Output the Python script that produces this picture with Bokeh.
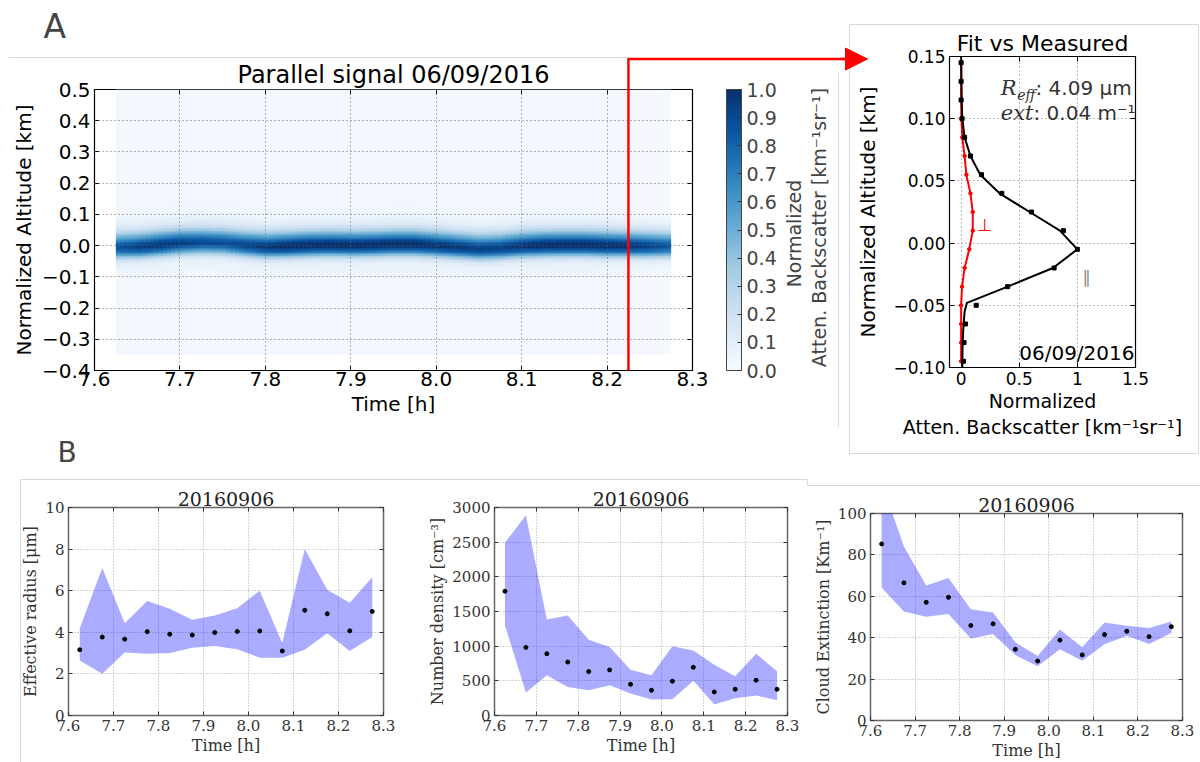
import numpy as np
from bokeh.plotting import figure
from bokeh.layouts import row, column
from bokeh.models import (Range1d, FixedTicker, ColorBar, LinearColorMapper, LinearAxis,
                          Label, Arrow, NormalHead)
from bokeh.palettes import Blues256
from bokeh.embed import file_html
from bokeh.resources import INLINE

# ====================== DATA ======================
x_ticks = [7.6, 7.7, 7.8, 7.9, 8.0, 8.1, 8.2, 8.3]
x_tick_labels = ["7.6", "7.7", "7.8", "7.9", "8.0", "8.1", "8.2", "8.3"]

# --- Panel A: parallel signal heat map ---
hm_time_start, hm_time_end = 7.625, 8.275
hm_alt_start, hm_alt_end = -0.35, 0.50
band_time = [7.625, 7.650, 7.675, 7.700, 7.725, 7.750, 7.775, 7.800, 7.825,
             7.850, 7.875, 7.900, 7.925, 7.950, 7.975, 8.000, 8.025, 8.050,
             8.075, 8.100, 8.125, 8.150, 8.175, 8.200, 8.225, 8.250, 8.275]
band_center = [-0.004, -0.002, 0.004, 0.010, 0.012, 0.010, 0.003, -0.002, 0.000,
               0.003, 0.004, 0.003, 0.004, 0.006, 0.006, 0.002, -0.003, -0.008,
               -0.006, 0.000, 0.003, 0.004, 0.004, 0.002, 0.001, 0.000, 0.000]
band_peak = [0.85, 0.92, 0.95, 0.92, 0.88, 0.86, 0.90, 0.95, 1.00,
             1.00, 1.00, 1.00, 1.00, 1.00, 1.00, 0.97, 0.95, 0.92,
             0.92, 0.96, 1.00, 1.00, 1.00, 1.00, 0.97, 0.92, 0.85]
band_floor = [0.035, 0.035, 0.035, 0.035, 0.035, 0.035, 0.035, 0.035, 0.035,
              0.035, 0.035, 0.035, 0.035, 0.035, 0.035, 0.035, 0.035, 0.035,
              0.035, 0.035, 0.035, 0.035, 0.035, 0.030, 0.028, 0.020, 0.012]
hm_y_ticks = [-0.4, -0.3, -0.2, -0.1, 0.0, 0.1, 0.2, 0.3, 0.4, 0.5]
hm_y_labels = ["\u22120.4", "\u22120.3", "\u22120.2", "\u22120.1", "0.0",
               "0.1", "0.2", "0.3", "0.4", "0.5"]
cb_ticks = [0.0, 0.1, 0.2, 0.3, 0.4, 0.5, 0.6, 0.7, 0.8, 0.9, 1.0]
cb_labels = ["0.0", "0.1", "0.2", "0.3", "0.4", "0.5", "0.6", "0.7", "0.8", "0.9", "1.0"]
profile_time = 8.225

# --- Panel A: fit vs measured profile ---
prof_alt = [0.145, 0.130, 0.115, 0.100, 0.085, 0.070, 0.055, 0.040, 0.025,
            0.010, -0.005, -0.020, -0.035, -0.050, -0.065, -0.080, -0.095]
par_meas = [0.0, 0.0, 0.0, 0.008, 0.03, 0.08, 0.175, 0.35, 0.605,
            0.88, 1.0, 0.80, 0.40, 0.13, 0.038, 0.025, 0.02]
perp_fit = [0.0, 0.0, 0.0, 0.002, 0.01, 0.03, 0.045, 0.08, 0.10,
            0.10, 0.07, 0.03, 0.008, 0.0, 0.0, 0.0, 0.0]
fit_alt = [0.150, 0.130, 0.115, 0.100, 0.085, 0.070, 0.055, 0.040, 0.025,
           0.010, -0.005, -0.020, -0.035, -0.048, -0.055, -0.070, -0.085, -0.100]
par_fit = [0.0, 0.003, 0.005, 0.01, 0.03, 0.08, 0.165, 0.33, 0.59,
           0.85, 1.0, 0.79, 0.40, 0.05, 0.03, 0.018, 0.012, 0.01]
prof_x_ticks = [0, 0.5, 1, 1.5]
prof_x_labels = ["0", "0.5", "1", "1.5"]
prof_y_ticks = [-0.10, -0.05, 0.0, 0.05, 0.10, 0.15]
prof_y_labels = ["\u22120.10", "\u22120.05", "0.00", "0.05", "0.10", "0.15"]

# --- Panel B: retrievals ---
t_pts = [7.625, 7.675, 7.725, 7.775, 7.825, 7.875, 7.925,
         7.975, 8.025, 8.075, 8.125, 8.175, 8.225, 8.275]
reff_mid = [3.16, 3.77, 3.67, 4.03, 3.91, 3.87, 3.99, 4.04, 4.06, 3.10, 5.06, 4.89, 4.07, 5.00]
reff_hi = [4.20, 7.09, 4.44, 5.50, 5.13, 4.60, 4.81, 5.16, 6.00, 3.48, 8.00, 6.05, 5.42, 6.65]
reff_lo = [2.65, 2.01, 3.03, 2.97, 3.00, 3.26, 3.34, 3.18, 2.78, 2.78, 3.16, 3.96, 3.10, 3.77]
nd_mid = [1792, 982, 891, 771, 633, 657, 450, 364, 494, 695, 340, 379, 508, 379]
nd_hi = [2492, 2890, 1385, 1442, 1093, 987, 661, 580, 997, 939, 733, 565, 891, 637]
nd_lo = [1299, 331, 580, 412, 364, 436, 316, 230, 235, 503, 158, 249, 288, 220]
ext_mid = [85.3, 66.5, 57.1, 59.5, 45.9, 46.7, 34.4, 28.7, 38.8, 31.7, 41.5, 43.1, 40.5, 45.3]
ext_hi = [115.0, 84.0, 65.2, 68.9, 53.7, 52.2, 37.8, 31.1, 44.0, 35.4, 47.4, 45.8, 44.7, 47.8]
ext_lo = [64.1, 52.6, 50.1, 51.4, 39.6, 41.8, 31.6, 26.2, 34.4, 28.9, 36.8, 41.0, 37.0, 42.3]
reff_ticks = [0, 2, 4, 6, 8, 10]
nd_ticks = [0, 500, 1000, 1500, 2000, 2500, 3000]
ext_ticks = [0, 20, 40, 60, 80, 100]

# ====================== HELPERS ======================
SANS = "DejaVu Sans"
SERIF = "DejaVu Serif"


def px_mapper(fx0, fx1, fy0, fy1, xr, yr):
    def f(px, py):
        x = xr[0] + (px - fx0) / (fx1 - fx0) * (xr[1] - xr[0])
        y = yr[1] - (py - fy0) / (fy1 - fy0) * (yr[1] - yr[0])
        return x, y
    return f


def no_align(p):
    try:
        p.frame_align = False
    except Exception:
        pass


def mid_y(baseline, size):
    """vertical centre used with text_baseline='middle' for a given text baseline"""
    return baseline - 0.346 * size


def style(p, font, tick_size, label_size, color="black", tick_in=5):
    for ax in (p.xaxis[0], p.yaxis[0]):
        ax.axis_line_color = None
        ax.major_tick_in = tick_in
        ax.major_tick_out = 0
        ax.minor_tick_line_color = None
        ax.major_tick_line_color = color
        ax.major_label_text_font = font
        ax.major_label_text_font_size = tick_size
        ax.major_label_text_color = color
        ax.axis_label_text_font = font
        ax.axis_label_text_font_size = label_size
        ax.axis_label_text_font_style = "normal"
        ax.axis_label_text_color = color
        ax.major_label_standoff = 4
        ax.axis_label_standoff = 3
    p.title.text_font = font
    p.title.text_font_style = "normal"
    p.title.text_color = "black"
    p.title.align = "center"
    no_align(p)


def mirror_ticks(p, xt, yt, color, tick_in):
    for side, ticks in (("above", xt), ("right", yt)):
        ax = LinearAxis(ticker=FixedTicker(ticks=ticks), axis_line_color=None,
                        major_tick_in=tick_in, major_tick_out=0, minor_tick_line_color=None,
                        major_tick_line_color=color, major_label_text_color=None,
                        major_label_text_font_size="1px", major_label_standoff=0)
        p.add_layout(ax, side)


# ====================== HEAT MAP ======================
H_fr = (94, 692, 89, 370)
H = figure(width=712, height=440, x_range=Range1d(7.6, 8.3), y_range=Range1d(-0.4, 0.5),
           output_backend="svg", toolbar_location=None,
           min_border_left=94, min_border_right=20, min_border_top=89, min_border_bottom=70,
           title="Parallel signal 06/09/2016")
style(H, SANS, "20px", "20px")
H.title.text_font_size = "24px"
H.title.standoff = 1
H.xaxis.major_label_standoff = 1
H.xaxis.axis_label = "Time [h]"
H.yaxis.axis_label = "Normalized Altitude [km]"
H.xaxis.ticker = FixedTicker(ticks=x_ticks)
H.xaxis.major_label_overrides = dict(zip(x_ticks, x_tick_labels))
H.yaxis.ticker = FixedTicker(ticks=hm_y_ticks)
H.yaxis.major_label_overrides = dict(zip(hm_y_ticks, hm_y_labels))
H.outline_line_color = "black"
H.outline_line_width = 1.2
H.grid.grid_line_color = "#666666"
H.grid.grid_line_dash = "1 3"
H.grid.level = "overlay"
mirror_ticks(H, x_ticks, hm_y_ticks, "black", 5)

# display grid (smooth rendering of the read band values, like imshow interpolation)
alt_rows = np.linspace(hm_alt_start, hm_alt_end, 171)
col_t = np.linspace(hm_time_start, hm_time_end, 131)
cen = np.interp(col_t, band_time, band_center)
pk = np.interp(col_t, band_time, band_peak)
fl = np.interp(col_t, band_time, band_floor)
order = np.argsort(prof_alt)
pa = np.array(prof_alt)[order]
pv = np.array(par_meas)[order]
img = np.zeros((len(alt_rows), len(col_t)))
for j in range(len(col_t)):
    img[:, j] = fl[j] + pk[j] * np.interp(alt_rows - cen[j], pa, pv, left=0.0, right=0.0)
cmap = LinearColorMapper(palette=list(reversed(Blues256)), low=0.0, high=1.0)
H.image(image=[img], x=hm_time_start, y=hm_alt_start, dw=hm_time_end - hm_time_start,
        dh=hm_alt_end - hm_alt_start, color_mapper=cmap)
H.line([profile_time, profile_time], [-0.4, 0.5], line_color="red", line_width=2.5)

# colour bar host (empty 1-px frame so the bar sits at the right place)
CB = figure(width=128, height=440, x_range=Range1d(0, 1), y_range=Range1d(0, 1),
            output_backend="svg", toolbar_location=None,
            x_axis_location=None, y_axis_location=None,
            min_border_left=13, min_border_right=114, min_border_top=89, min_border_bottom=70,
            outline_line_color=None, background_fill_color=None)
CB.grid.visible = False
no_align(CB)
cb = ColorBar(color_mapper=cmap, ticker=FixedTicker(ticks=cb_ticks),
              major_label_overrides=dict(zip(cb_ticks, cb_labels)),
              width=15, padding=0, margin=0, label_standoff=5,
              major_label_text_font=SANS, major_label_text_font_size="19px",
              major_tick_line_color="#333333", major_tick_in=4, major_tick_out=0,
              bar_line_color="#444444", border_line_color=None, background_fill_color=None)
CB.add_layout(cb, "right")

# ====================== PROFILE ======================
P_fr = (949, 1135, 56, 368)
P = figure(width=360, height=440, x_range=Range1d(-0.1, 1.5), y_range=Range1d(-0.1, 0.15),
           output_backend="svg", toolbar_location=None,
           min_border_left=109, min_border_right=65, min_border_top=56, min_border_bottom=72,
           title="Fit vs Measured")
style(P, SANS, "17px", "19px")
P.title.text_font_size = "22px"
P.title.standoff = 2
P.xaxis.axis_label = "Normalized\nAtten. Backscatter [km\u207b\u00b9sr\u207b\u00b9]"
P.yaxis.axis_label = "Normalized Altitude [km]"
P.yaxis.axis_label_text_font_size = "20px"
P.xaxis.axis_label_standoff = 2
P.yaxis.axis_label_standoff = 10
P.xaxis.ticker = FixedTicker(ticks=prof_x_ticks)
P.xaxis.major_label_overrides = dict(zip(prof_x_ticks, prof_x_labels))
P.yaxis.ticker = FixedTicker(ticks=prof_y_ticks)
P.yaxis.major_label_overrides = dict(zip(prof_y_ticks, prof_y_labels))
P.outline_line_color = "black"
P.outline_line_width = 1.2
P.grid.grid_line_color = "#777777"
P.grid.grid_line_dash = "1 3"
mirror_ticks(P, prof_x_ticks, prof_y_ticks, "black", 5)

P.line(perp_fit, prof_alt, line_color="red", line_width=2)
P.scatter(perp_fit, prof_alt, size=3.5, color="red")
P.line(par_fit, fit_alt, line_color="black", line_width=2)
P.scatter(par_meas, prof_alt, size=4, color="black", marker="square")

mP = px_mapper(*P_fr, (-0.1, 1.5), (-0.1, 0.15))


def plabel(px, py_base, text, font, size, align="left", style_="normal", color="#333333"):
    x, y = mP(px, mid_y(py_base, size))
    P.add_layout(Label(x=x, y=y, text=text, text_font=font, text_font_size=f"{size}px",
                       text_font_style=style_, text_align=align, text_baseline="middle",
                       text_color=color))


plabel(1035, 95, ": 4.09 \u03bcm", SANS, 20)
plabel(1035, 99, "eff", SERIF, 14, align="right", style_="italic")
plabel(1016, 95, "R", SERIF, 21, align="right", style_="italic")
plabel(1033, 120, "ext", SERIF, 21, align="right", style_="italic")
plabel(1033, 120, ": 0.04 m\u207b\u00b9", SANS, 20)
plabel(1134, 360, "06/09/2016", SANS, 20, align="right", color="black")
plabel(977, 231, "\u22a5", SANS, 17, color="red")
plabel(1082, 283, "\u2225", SANS, 17, color="#888888")


# ====================== BOTTOM PANELS ======================
def bottom_fig(width, borders, yr, yticks, ylabel, lo, hi, mid):
    p = figure(width=width, height=322, x_range=Range1d(7.6, 8.3), y_range=Range1d(*yr),
               output_backend="svg", toolbar_location=None,
               min_border_left=borders[0], min_border_right=borders[1],
               min_border_top=borders[2], min_border_bottom=borders[3],
               title="20160906")
    style(p, SERIF, "15px", "16px", color="#333333", tick_in=4)
    p.title.text_font_size = "19px"
    p.title.text_color = "#222222"
    p.title.standoff = 3
    p.xaxis.axis_label = "Time [h]"
    p.yaxis.axis_label = ylabel
    p.xaxis.axis_label_standoff = 2
    p.yaxis.axis_label_standoff = 2
    p.xaxis.ticker = FixedTicker(ticks=x_ticks)
    p.xaxis.major_label_overrides = dict(zip(x_ticks, x_tick_labels))
    p.yaxis.ticker = FixedTicker(ticks=yticks)
    p.outline_line_color = "#666666"
    p.outline_line_width = 1.5
    p.grid.grid_line_color = "#aaaaaa"
    p.grid.grid_line_dash = "1 2"
    mirror_ticks(p, x_ticks, yticks, "#333333", 4)
    p.varea(x=t_pts, y1=lo, y2=hi, fill_color="#0000ff", fill_alpha=0.33)
    p.scatter(t_pts, mid, size=4, color="black")
    return p


F1 = bottom_fig(425, (68, 42, 67, 47), (0, 10), reff_ticks,
                "Effective radius [\u03bcm]", reff_lo, reff_hi, reff_mid)
F2 = bottom_fig(385, (47, 23, 67, 47), (0, 3000), nd_ticks,
                "Number density [cm\u207b\u00b3]", nd_lo, nd_hi, nd_mid)
F3 = bottom_fig(390, (58, 18, 73, 40), (0, 100), ext_ticks,
                "Cloud Extinction [Km\u207b\u00b9]", ext_lo, ext_hi, ext_mid)

# ====================== OVERLAY (page-pixel decorations) ======================
OV = figure(width=1200, height=762, x_range=Range1d(0, 1200), y_range=Range1d(762, 0),
            output_backend="svg", toolbar_location=None,
            x_axis_location=None, y_axis_location=None, min_border=0,
            outline_line_color=None, background_fill_color=None, border_fill_color=None,
            styles={"position": "absolute", "left": "0px", "top": "0px",
                    "z-index": "10", "pointer-events": "none"})
OV.grid.visible = False
no_align(OV)

OV.add_layout(Label(x=43, y=mid_y(37, 33), text="A", text_font=SANS, text_font_size="33px",
                    text_baseline="middle"))
OV.add_layout(Label(x=57, y=mid_y(462, 28), text="B", text_font=SANS, text_font_size="28px",
                    text_baseline="middle"))
OV.add_layout(Label(x=793, y=233, text="Normalized", angle=np.pi / 2, text_align="center",
                    text_baseline="middle", text_font=SANS, text_font_size="19px"))
OV.add_layout(Label(x=818, y=227, text="Atten. Backscatter [km\u207b\u00b9sr\u207b\u00b9]",
                    angle=np.pi / 2, text_align="center", text_baseline="middle",
                    text_font=SANS, text_font_size="19px"))

# red connector: from the profile time on the heat map to the profile panel
cx = H_fr[0] + (profile_time - 7.6) / 0.7 * (H_fr[1] - H_fr[0])
OV.line([cx, cx, 848], [H_fr[2] + 1, 58.5, 58.5], line_color="red", line_width=2.5,
        line_join="miter")
OV.add_layout(Arrow(end=NormalHead(size=22, fill_color="red", line_color="red", line_width=1),
                    x_start=840, y_start=58.5, x_end=867, y_end=58.5,
                    line_color="red", line_width=2.5))

# faint panel frames of the composite figure
border_segments = [((8, 57), (626, 57)), ((838, 72), (838, 427)),
                   ((849, 24), (1198, 24)), ((849, 24), (849, 455)),
                   ((849, 453), (1198, 453)), ((1198, 24), (1198, 453)),
                   ((20, 479), (807, 479)), ((20, 479), (20, 762)),
                   ((807, 479), (807, 485)), ((807, 485), (1200, 485))]
for (a, b) in border_segments:
    OV.line([a[0], b[0]], [a[1], b[1]], line_color="#dadada", line_width=1)

layout = column(row(H, CB, P), row(F1, F2, F3), OV)
open("out.html", "w").write(file_html(layout, INLINE))
